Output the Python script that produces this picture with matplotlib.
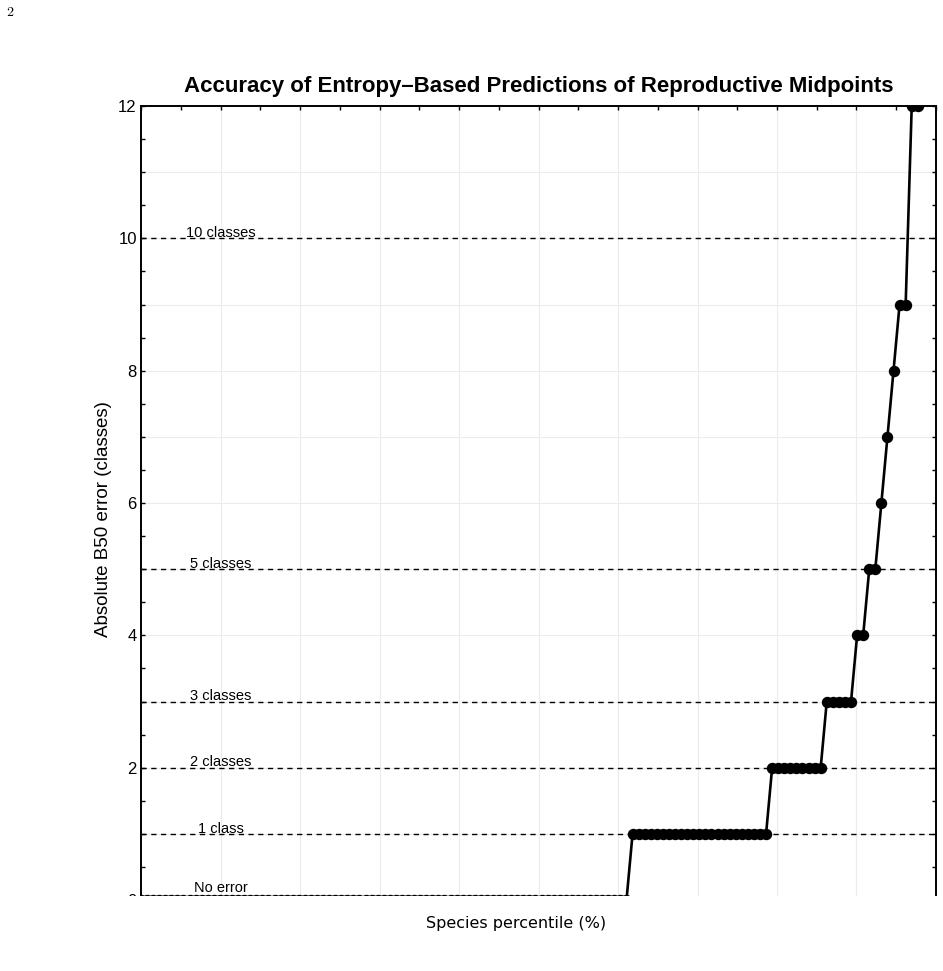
import numpy as np
import matplotlib
matplotlib.use('Agg')
import matplotlib.pyplot as plt
from matplotlib.ticker import MultipleLocator, FuncFormatter
from matplotlib.patches import Rectangle

# sorted absolute B50 errors (classes): level and number of species at that level
error_levels = [0, 1, 2, 3, 4, 5, 6, 7, 8, 9, 12, 14, 17]
species_count = [81, 23, 9, 5, 2, 2, 1, 1, 1, 2, 2, 1, 1]

# reference lines
ref_levels = [0, 1, 2, 3, 5, 10]
ref_labels = ['No error', '1 class', '2 classes', '3 classes', '5 classes', '10 classes']
ref_label_y = [0.12, 1.02, 2.02, 3.02, 5.02, 10.02]

errors = np.repeat(error_levels, species_count)
n_species = len(errors)
percentile = 100.0 * np.arange(n_species) / n_species

plt.rcParams['font.family'] = ['Liberation Sans', 'DejaVu Sans']
plt.rcParams['mathtext.fontset'] = 'cm'

W, H = 943, 971
fig = plt.figure(figsize=(W / 100, H / 100), dpi=100)
ax = fig.add_axes([141 / W, (H - 900) / H, 795 / W, 794 / H])

ax.set_xlim(0, 100)
ax.set_ylim(0, 12)

ax.xaxis.set_major_locator(MultipleLocator(10))
ax.xaxis.set_minor_locator(MultipleLocator(5))
ax.yaxis.set_major_locator(MultipleLocator(1))
ax.yaxis.set_minor_locator(MultipleLocator(0.5))
ax.yaxis.set_major_formatter(FuncFormatter(lambda v, p: '%d' % v if int(round(v)) % 2 == 0 else ''))
ax.set_xticklabels([])
ax.tick_params(which='both', direction='in', top=True, right=True, length=3, width=1, colors='black')
ax.tick_params(axis='y', labelsize=12, pad=3)
ax.tick_params(axis='x', labelbottom=False)
ax.grid(True, which='major', color='#ececec', lw=0.8)
ax.set_axisbelow(True)
for s in ax.spines.values():
    s.set_linewidth(1.4)
    s.set_color('black')

# reference lines and their labels
for lvl, lab, ly in zip(ref_levels, ref_labels, ref_label_y):
    ax.axhline(lvl, color='black', lw=1, dashes=(3.8, 3.2), zorder=2)
    ax.text(10, ly, lab, ha='center', va='baseline', fontsize=10.5, zorder=3)

ax.plot(percentile, errors, color='black', lw=1.9, marker='o', ms=7.2, zorder=4)

ax.set_title('Accuracy of Entropy\u2013Based Predictions of Reproductive Midpoints',
             fontsize=16, fontweight='bold', pad=10)

# the page is cut just under the plot
fig.patches.append(Rectangle((0, 0), 1, (H - 895.5) / H, transform=fig.transFigure,
                             facecolor='white', edgecolor='none', zorder=10))

fig.text(516 / W, 1 - 923 / H, 'Species percentile (%)', family='DejaVu Sans',
         fontsize=11.5, ha='center', va='center', zorder=11)
fig.text(104 / W, 1 - 519 / H, 'Absolute B50 error (classes)', fontsize=13.5,
         rotation=90, ha='center', va='center', zorder=11)
fig.text(10 / W, 1 - 12 / H, r'$\mathrm{2}$', fontsize=10, ha='center', va='center')

fig.savefig('out.png', dpi=100)
